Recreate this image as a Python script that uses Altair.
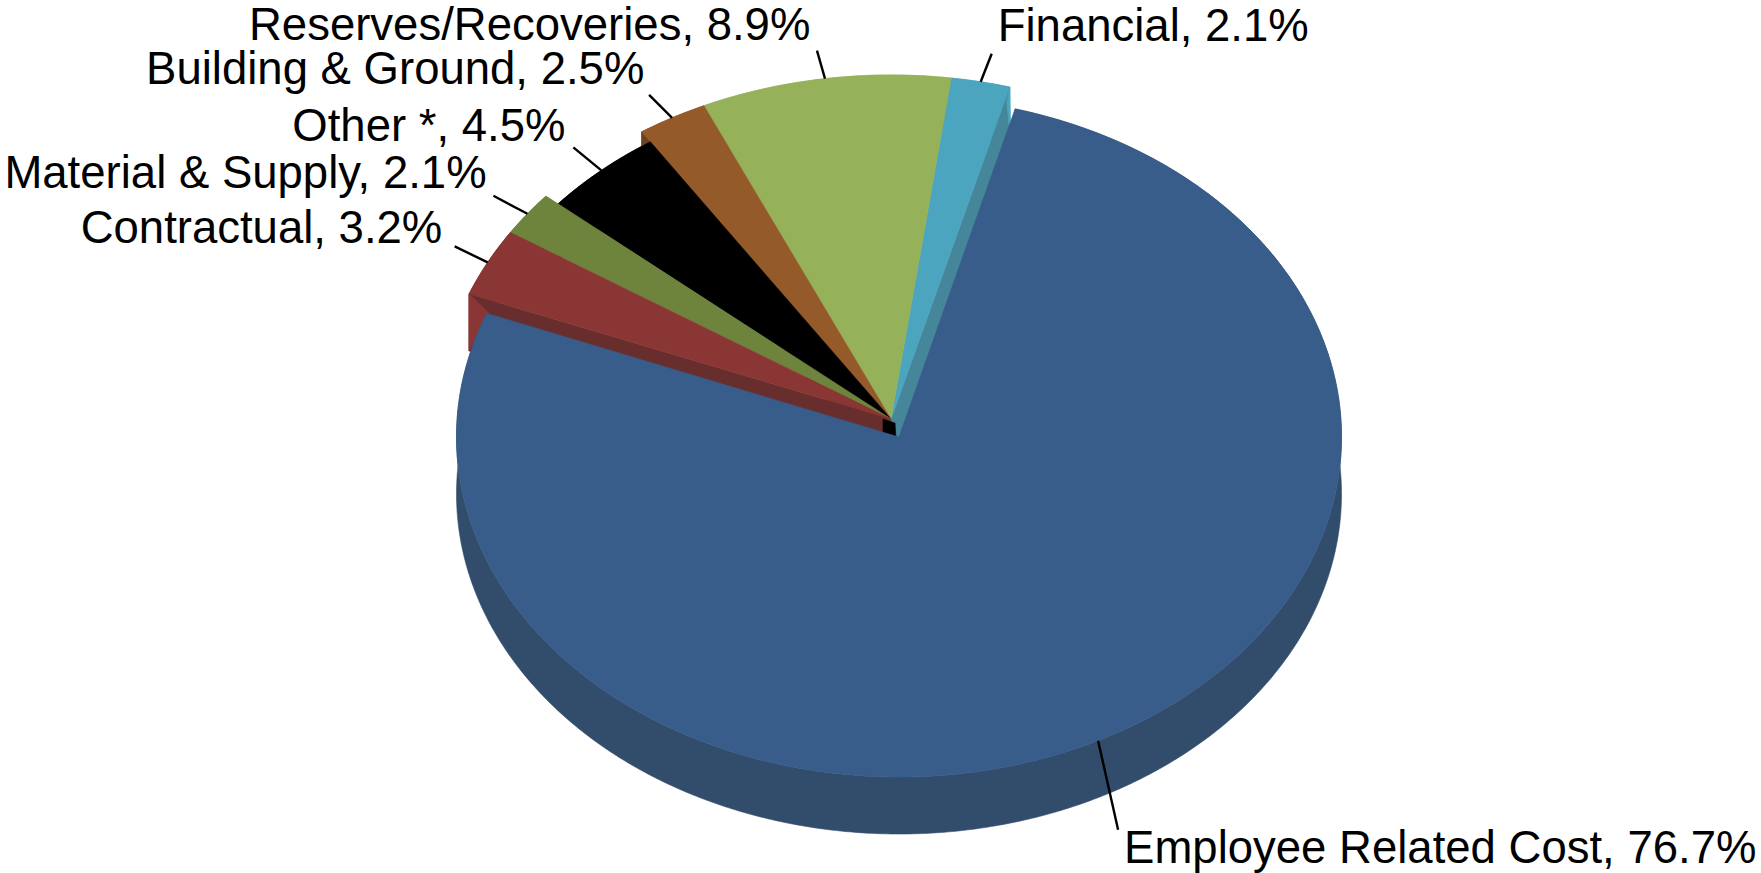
import numpy as np
import pandas as pd
import altair as alt

# Budget shares, going anticlockwise from the top of the pie
categories = ["Financial", "Reserves/Recoveries", "Building & Ground", "Other *",
              "Material & Supply", "Contractual"]
shares = [2.1, 8.9, 2.5, 4.5, 2.1, 3.2]
main_category = "Employee Related Cost"
main_share = 76.7

top_colors = ["#4BA5BE", "#95B15A", "#955A29", "#000000", "#6E843C", "#8A3634"]
main_color = "#385D8A"
main_wall = "#324C6B"
radial_walls = {"Financial": "#46869A", "Building & Ground": "#6E4220", "Contractual": "#682E2E"}

# Pie geometry on the pixel canvas
W, H = 1761, 873
START = 15.2
DEPTH = 57
GROUP = dict(cx=891.0, cy=419.0, rx=453.0, ry=344.0)
MAIN = dict(cx=899.0, cy=437.0, rx=442.5, ry=340.0)
INSET = {"Other *": 0.965}

# Leader end and label start, relative to the point on the rim
LEADER = [(11, -28), (-8, -28), (-23, -23), (-28, -23), (-34, -18), (-33, -16)]
LABEL = [(17, -55), (-576, -53), (-526, -48), (-309, -43), (-523, -40), (-407, -33)]
MAIN_LEADER = (20, 89)
MAIN_LABEL = (26, 108)
FONT_SIZE = 45.5


def rim(g, deg, scale=1.0):
    t = np.radians(deg)
    return g["cx"] + scale * g["rx"] * np.sin(t), g["cy"] - scale * g["ry"] * np.cos(t)


def arc(g, a, b, scale=1.0, dy=0.0):
    pts = [rim(g, d, scale) for d in np.linspace(a, b, max(int(abs(b - a) * 2), 6))]
    return [(x, y + dy) for x, y in pts]


layers = []


def polygon(points, color):
    pts = list(points) + [points[0]]
    frame = pd.DataFrame({"x": [p[0] for p in pts], "y": [p[1] for p in pts], "i": range(len(pts))})
    xs = alt.Scale(domain=[0, W], nice=False, zero=False)
    ys = alt.Scale(domain=[H, 0], nice=False, zero=False)
    layers.append(
        alt.Chart(frame)
        .mark_line(fill=color, stroke=color, strokeWidth=0.6, interpolate="linear")
        .encode(x=alt.X("x:Q", scale=xs, axis=None), y=alt.Y("y:Q", scale=ys, axis=None), order="i:Q")
    )


def segment(a, b, color="#000000", width=2.4):
    frame = pd.DataFrame({"x": [a[0], b[0]], "y": [a[1], b[1]], "i": [0, 1]})
    xs = alt.Scale(domain=[0, W], nice=False, zero=False)
    ys = alt.Scale(domain=[H, 0], nice=False, zero=False)
    layers.append(
        alt.Chart(frame)
        .mark_line(stroke=color, strokeWidth=width)
        .encode(x=alt.X("x:Q", scale=xs, axis=None), y=alt.Y("y:Q", scale=ys, axis=None), order="i:Q")
    )


# Angular extent of each small slice, derived from its share
edges = [START]
for s in shares:
    edges.append(edges[-1] - s * 3.6)
hub = (GROUP["cx"], GROUP["cy"])

# Outer walls of the small slices
for i, name in enumerate(categories):
    a, b = edges[i], edges[i + 1]
    k = INSET.get(name, 1.0)
    polygon(arc(GROUP, a, b, k) + arc(GROUP, b, a, k, DEPTH), top_colors[i])

# Radial walls that show beside the neighbouring slices
for i, name in enumerate(categories):
    if name not in radial_walls:
        continue
    deg = edges[i] if name == "Financial" else edges[i + 1]
    p = rim(GROUP, deg)
    inner_x = hub[0] - 8 if name == "Contractual" else hub[0]
    polygon([hub, p, (p[0], p[1] + DEPTH), (inner_x, hub[1] + DEPTH), (inner_x, hub[1])], radial_walls[name])

# Lit corner where the rim wall meets the radial wall
p = rim(GROUP, edges[-1])
polygon([p, (p[0], p[1] + DEPTH), (p[0] + 20, p[1] + 19)], top_colors[-1])
p = rim(GROUP, edges[0])
polygon([p, (p[0] + 1, p[1] + DEPTH), (p[0] - 3, p[1] + 15)], top_colors[0])

# Dark block below the meeting point of the small slices
polygon([(883, hub[1]), (895, hub[1] + 4), (896, hub[1] + 20), (883, hub[1] + 17)], "#000000")

# Top faces of the small slices
for i, name in enumerate(categories):
    polygon([hub] + arc(GROUP, edges[i], edges[i + 1], INSET.get(name, 1.0)), top_colors[i])

# The large slice: rim wall below, top face above
main_a = START
main_b = START + main_share * 3.6
polygon(arc(MAIN, main_a, main_b) + arc(MAIN, main_b, main_a, 1.0, DEPTH), main_wall)
polygon([(MAIN["cx"], MAIN["cy"])] + arc(MAIN, main_a, main_b), main_color)

# Leader lines and labels
rows = []
for i, name in enumerate(categories):
    mid = (edges[i] + edges[i + 1]) / 2
    x, y = rim(GROUP, mid, INSET.get(name, 1.0))
    segment((x, y), (x + LEADER[i][0], y + LEADER[i][1]))
    rows.append({"x": x + LABEL[i][0], "y": y + LABEL[i][1], "t": f"{name}, {shares[i]}%"})
x, y = rim(MAIN, (main_a + main_b) / 2)
segment((x, y), (x + MAIN_LEADER[0], y + MAIN_LEADER[1]))
rows.append({"x": x + MAIN_LABEL[0], "y": y + MAIN_LABEL[1], "t": f"{main_category}, {main_share}%"})

labels = (
    alt.Chart(pd.DataFrame(rows))
    .mark_text(align="left", baseline="middle", font="Liberation Sans", fontSize=FONT_SIZE, color="#000000")
    .encode(
        x=alt.X("x:Q", scale=alt.Scale(domain=[0, W], nice=False, zero=False), axis=None),
        y=alt.Y("y:Q", scale=alt.Scale(domain=[H, 0], nice=False, zero=False), axis=None),
        text="t:N",
    )
)
layers.append(labels)

chart = (
    alt.layer(*layers)
    .properties(width=W, height=H, padding=0, autosize=alt.AutoSizeParams(type="none"), background="white")
    .configure_view(stroke=None)
)
chart.save("out.html", embed_options={"renderer": "svg", "actions": False})
